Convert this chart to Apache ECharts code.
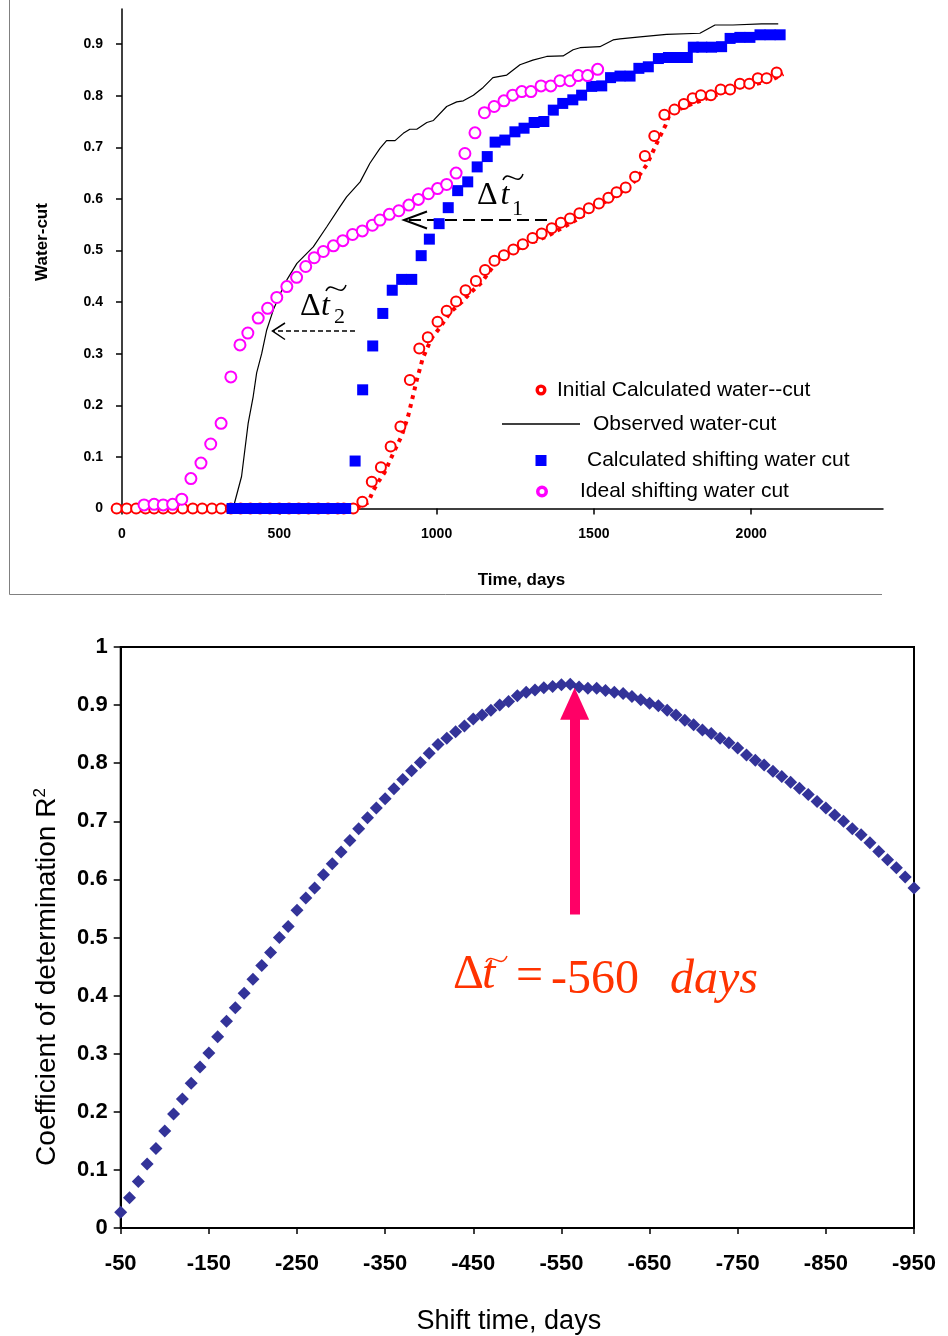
<!DOCTYPE html>
<html><head><meta charset="utf-8">
<script src="https://cdn.jsdelivr.net/npm/echarts@6/dist/echarts.min.js"></script>
<style>html,body{margin:0;padding:0;background:#fff}#c{width:948px;height:1336px}</style>
</head><body><div id="c"></div>
<script>
// ---------- Top chart data: [time (days), water-cut] ----------
const initialCalc = [[-17,0],[15,0],[45,0],[75,0],[102,0],[131,0],[161,0],[193,0],[225,0],[255,0],[286,0],[315,0],[346,0],[377,0],[408,0],[439,0],[470,0],[500,0],[531,0],[562,0],[593,0],[624,0],[655,0],[686,0],[705,0],
 [735,0],[764,0.013],[794,0.052],[823,0.080],[854,0.12],[885,0.159],[915,0.249],[945,0.31],[972,0.332],[1003,0.362],[1032,0.383],[1062,0.401],[1092,0.423],[1125,0.441],[1154,0.462],[1184,0.48],[1214,0.491],[1244,0.502],[1274,0.512],[1305,0.524],[1334,0.533],[1366,0.543],[1395,0.554],[1424,0.562],[1454,0.572],[1484,0.582],[1516,0.591],[1546,0.602],[1572,0.613],[1601,0.622],[1631,0.643],[1662,0.683],[1692,0.722],[1724,0.763],[1756,0.773],[1786,0.784],[1814,0.795],[1840,0.801],[1872,0.801],[1903,0.812],[1933,0.812],[1964,0.823],[1994,0.823],[2021,0.834],[2049,0.834],[2081,0.845]];
const initialCalcDotted = [[746,0],[783,0.012],[797,0.033],[815,0.052],[834,0.069],[860,0.104],[889,0.141],[910,0.18],[937,0.249],[956,0.291],[984,0.33],[1011,0.351],[1043,0.38],[1080,0.40],[1106,0.417],[1143,0.438],[1202,0.488],[1286,0.511],[1350,0.527],[1435,0.556],[1519,0.588],[1615,0.624],[1641,0.643],[1668,0.666],[1697,0.704],[1715,0.727],[1728,0.743],[1742,0.766],[1795,0.78],[1874,0.798],[1943,0.814],[2007,0.821],[2070,0.832],[2102,0.842]];
const observed = [[353,0],[380,0.062],[401,0.165],[417,0.217],[428,0.263],[444,0.30],[460,0.346],[481,0.385],[508,0.423],[524,0.443],[556,0.475],[608,0.507],[651,0.546],[693,0.585],[714,0.604],[757,0.633],[788,0.669],[820,0.698],[841,0.713],[868,0.713],[894,0.727],[915,0.735],[937,0.735],[969,0.748],[990,0.752],[1032,0.779],[1064,0.788],[1085,0.790],[1117,0.801],[1148,0.816],[1179,0.835],[1223,0.84],[1265,0.86],[1306,0.869],[1350,0.876],[1402,0.877],[1434,0.889],[1456,0.893],[1519,0.895],[1561,0.908],[1583,0.91],[1647,0.914],[1731,0.919],[1837,0.921],[1885,0.937],[1942,0.937],[2033,0.939],[2086,0.939]];
const calcShifting = [[350,0],[380,0],[410,0],[440,0],[470,0],[500,0],[530,0],[560,0],[590,0],[620,0],[650,0],[680,0],[711,0],
 [741,0.092],[765,0.23],[797,0.315],[829,0.378],[859,0.423],[889,0.444],[921,0.444],[951,0.49],[977,0.522],[1008,0.552],[1037,0.583],[1067,0.616],[1099,0.633],[1129,0.662],[1161,0.682],[1186,0.71],[1217,0.714],[1249,0.730],[1278,0.737],[1310,0.748],[1341,0.75],[1371,0.772],[1401,0.785],[1433,0.792],[1461,0.801],[1493,0.818],[1525,0.819],[1553,0.835],[1583,0.838],[1615,0.838],[1643,0.853],[1673,0.856],[1705,0.872],[1737,0.874],[1768,0.874],[1797,0.874],[1816,0.894],[1843,0.894],[1874,0.894],[1906,0.895],[1933,0.911],[1964,0.913],[1996,0.913],[2028,0.918],[2060,0.918],[2092,0.918]];
const idealShifting = [[70,0.007],[102,0.008],[131,0.007],[161,0.008],[190,0.018],[219,0.058],[251,0.088],[282,0.125],[315,0.165],[346,0.255],[375,0.317],[400,0.34],[433,0.369],[463,0.388],[492,0.409],[524,0.43],[555,0.448],[584,0.469],[611,0.486],[640,0.498],[672,0.509],[702,0.519],[733,0.531],[764,0.538],[796,0.549],[820,0.559],[850,0.570],[880,0.577],[912,0.588],[942,0.599],[974,0.610],[1003,0.620],[1032,0.628],[1062,0.650],[1090,0.688],[1122,0.728],[1152,0.767],[1183,0.779],[1214,0.790],[1242,0.801],[1271,0.808],[1300,0.808],[1332,0.819],[1363,0.819],[1392,0.829],[1424,0.829],[1450,0.839],[1480,0.839],[1512,0.851]];
const timeTicks = [0,500,1000,1500,2000];
const waterCutTicks = [0,0.1,0.2,0.3,0.4,0.5,0.6,0.7,0.8,0.9];

// ---------- Bottom chart data ----------
const shiftTime = [-50,-60,-70,-80,-90,-100,-110,-120,-130,-140,-150,-160,-170,-180,-190,-200,-210,-220,-230,-240,-250,-260,-270,-280,-290,-300,-310,-320,-330,-340,-350,-360,-370,-380,-390,-400,-410,-420,-430,-440,-450,-460,-470,-480,-490,-500,-510,-520,-530,-540,-550,-560,-570,-580,-590,-600,-610,-620,-630,-640,-650,-660,-670,-680,-690,-700,-710,-720,-730,-740,-750,-760,-770,-780,-790,-800,-810,-820,-830,-840,-850,-860,-870,-880,-890,-900,-910,-920,-930,-940,-950];
const r2 = [0.027,0.052,0.080,0.110,0.137,0.167,0.196,0.222,0.249,0.277,
 0.301,0.329,0.356,0.379,0.404,0.428,0.452,0.474,0.500,0.519,
 0.547,0.568,0.585,0.608,0.627,0.647,0.667,0.687,0.706,0.723,
 0.739,0.756,0.772,0.787,0.801,0.817,0.832,0.843,0.854,0.864,
 0.876,0.883,0.891,0.900,0.906,0.916,0.922,0.926,0.930,0.932,
 0.935,0.936,0.931,0.929,0.929,0.925,0.922,0.920,0.915,0.909,
 0.903,0.899,0.891,0.883,0.874,0.866,0.857,0.851,0.843,0.835,
 0.826,0.814,0.805,0.797,0.786,0.777,0.767,0.757,0.746,0.734,
 0.723,0.711,0.700,0.687,0.677,0.663,0.648,0.634,0.620,0.604,
 0.585];
const shiftTicks = [-50,-150,-250,-350,-450,-550,-650,-750,-850,-950];
const bestShift = -565;

const SANS = '"Liberation Sans", Arial, sans-serif';
const SERIF = '"Liberation Serif", "Times New Roman", serif';
const chart = echarts.init(document.getElementById('c'), null, {renderer:'canvas'});

function legendOf(name, icon, itemStyle, left, top, w, h, padLeft) {
  return {data:[{name, icon, itemStyle}], left, top, itemWidth:w, itemHeight:h, padding:0,
    selectedMode:false, orient:'horizontal',
    textStyle:{fontFamily:SANS, fontSize:21, color:'#000', padding:[0,0,0,padLeft]}};
}
const RING = 'path://M10,0A10,10,0,1,0,10,20A10,10,0,1,0,10,0ZM10,3A7,7,0,1,1,10,17A7,7,0,1,1,10,3Z';

const option = {
  animation:false,
  backgroundColor:'#fff',
  grid:[
    {left:122, right:65, top:9, bottom:827.5, containLabel:false},
    {left:120.7, right:34, top:647, bottom:107, containLabel:false, show:true, borderColor:'#000', borderWidth:2}
  ],
  legend:[
    legendOf('Initial Calculated water--cut',RING,{color:'#ff0000',opacity:1},535.5,379.5,9,9,6.5),
    legendOf('Observed water-cut','path://M0,0H78V1.4H0Z',{color:'#000',opacity:1},502,413.5,78,1.4,8),
    legendOf('Calculated shifting water cut','rect',{color:'#0000ff',opacity:1},535.5,450,11,11,35.5),
    legendOf('Ideal shifting water cut',RING,{color:'#ff00ff',opacity:1},536,481,10,10,28)
  ],
  xAxis:[
    {type:'value', gridIndex:0, min:0, max:2419,
     name:'Time, days', nameLocation:'middle', nameGap:63,
     nameTextStyle:{fontFamily:SANS, fontSize:17, fontWeight:'bold', color:'#000', padding:[0,0,0,38]},
     axisLine:{show:true, onZero:false, lineStyle:{color:'#000', width:1.5}},
     axisTick:{show:true, inside:false, length:6, lineStyle:{color:'#000', width:1.5}, customValues:timeTicks},
     axisLabel:{fontFamily:SANS, fontSize:14, fontWeight:'bold', color:'#000', margin:19, customValues:timeTicks,
       formatter:v=>String(v)},
     splitLine:{show:false}},
    {type:'value', gridIndex:1, min:-950, max:-50, inverse:true,
     name:'Shift time, days', nameLocation:'middle', nameGap:80,
     nameTextStyle:{fontFamily:SANS, fontSize:27, color:'#000', padding:[0,17,0,0]},
     axisLine:{show:true, onZero:false, lineStyle:{color:'#000', width:2}},
     axisTick:{show:true, length:6, lineStyle:{color:'#000', width:1.5}, customValues:shiftTicks},
     axisLabel:{fontFamily:SANS, fontSize:22, fontWeight:'bold', color:'#000', margin:25, customValues:shiftTicks,
       formatter:v=>String(v)},
     splitLine:{show:false}}
  ],
  yAxis:[
    {type:'value', gridIndex:0, min:0, max:0.968,
     name:'Water-cut', nameLocation:'middle', nameGap:71,
     nameTextStyle:{fontFamily:SANS, fontSize:17, fontWeight:'bold', color:'#000', padding:[0,0,0,33.5]},
     axisLine:{show:true, onZero:false, lineStyle:{color:'#000', width:1.5}},
     axisTick:{show:true, length:6, lineStyle:{color:'#000', width:1.5}, customValues:waterCutTicks},
     axisLabel:{fontFamily:SANS, fontSize:14, fontWeight:'bold', color:'#000', margin:19, customValues:waterCutTicks},
     splitLine:{show:false}},
    {type:'value', gridIndex:1, min:0, max:1, interval:0.1,
     name:'Coefficient of determination R{sup|2}', nameLocation:'middle', nameGap:58,
     nameTextStyle:{fontFamily:SANS, fontSize:28, color:'#000', padding:[0,79,0,0],
       rich:{sup:{fontFamily:SANS, fontSize:17, color:'#000', padding:[0,0,14,0]}}},
     axisLine:{show:true, onZero:false, lineStyle:{color:'#000', width:2}},
     axisTick:{show:true, length:7, lineStyle:{color:'#000', width:1.5}},
     axisLabel:{fontFamily:SANS, fontSize:22, fontWeight:'bold', color:'#000', margin:13},
     splitLine:{show:false}}
  ],
  series:[
    {name:'Initial Calculated water--cut (line)', type:'line', xAxisIndex:0, yAxisIndex:0, data:initialCalcDotted,
     showSymbol:false, symbol:'none', lineStyle:{color:'#ff0000', width:4, type:[4,5], cap:'butt'}, z:2},
    {name:'Initial Calculated water--cut', type:'scatter', xAxisIndex:0, yAxisIndex:0, data:initialCalc,
     symbol:'emptyCircle', symbolSize:10, clip:false,
     itemStyle:{color:'#ff0000', borderColor:'#ff0000', borderWidth:1.5, opacity:1}, z:3},
    {name:'Observed water-cut', type:'line', xAxisIndex:0, yAxisIndex:0, data:observed,
     symbol:'none', showSymbol:false, lineStyle:{color:'#000', width:1.2}, itemStyle:{color:'#000'}, z:4},
    {name:'Calculated shifting water cut', type:'scatter', xAxisIndex:0, yAxisIndex:0, data:calcShifting,
     symbol:'rect', symbolSize:11, clip:false, itemStyle:{color:'#0000ff', opacity:1}, z:5},
    {name:'Ideal shifting water cut', type:'scatter', xAxisIndex:0, yAxisIndex:0, data:idealShifting,
     symbol:'emptyCircle', symbolSize:11, clip:false,
     itemStyle:{color:'#ff00ff', borderColor:'#ff00ff', borderWidth:1.5, opacity:1}, z:6},
    {name:'R2', type:'scatter', xAxisIndex:1, yAxisIndex:1,
     data:shiftTime.map((s,i)=>[s, r2[i]]),
     symbol:'diamond', symbolSize:13, clip:false, itemStyle:{color:'#333399', opacity:1}, z:3,
     markLine:{silent:true, animation:false, symbol:['none','triangle'], symbolSize:[29,32],
       lineStyle:{color:'#ff0066', width:10, type:'solid', cap:'butt', opacity:1}, itemStyle:{color:'#ff0066'},
       label:{show:false}, emphasis:{disabled:true},
       data:[[{coord:[bestShift,0.5395]},{coord:[bestShift,0.9024]}]]}}
  ],
  graphic:[
    {type:'line', shape:{x1:9.5,y1:0,x2:9.5,y2:594.5}, style:{stroke:'#808080', lineWidth:1}, silent:true},
    {type:'line', shape:{x1:9.5,y1:594.5,x2:882,y2:594.5}, style:{stroke:'#808080', lineWidth:1}, silent:true},
    // Δt1 annotation
    {type:'line', shape:{x1:547,y1:220,x2:406,y2:220}, style:{stroke:'#000', lineWidth:2, lineDash:[12,6]}, silent:true},
    {type:'polyline', shape:{points:[[427,211.5],[404,220],[427,228.5]]}, style:{stroke:'#000', lineWidth:2, fill:null}, silent:true},
    {type:'text', x:477, y:195.9, style:{text:'Δ', font:'32px '+SERIF, fill:'#000', align:'left', verticalAlign:'middle'}, silent:true},
    {type:'text', x:500.5, y:195.9, style:{text:'t', font:'italic 32px '+SERIF, fill:'#000', align:'left', verticalAlign:'middle'}, silent:true},
    {type:'bezierCurve', shape:{x1:503,y1:180,cpx1:508,cpy1:168,cpx2:518,cpy2:188,x2:523,y2:174}, style:{stroke:'#000', lineWidth:1.5, fill:null}, silent:true},
    {type:'text', x:512, y:209.3, style:{text:'1', font:'22px '+SERIF, fill:'#000', align:'left', verticalAlign:'middle'}, silent:true},
    // Δt2 annotation
    {type:'line', shape:{x1:355,y1:331,x2:274,y2:331}, style:{stroke:'#000', lineWidth:1.5, lineDash:[5,3]}, silent:true},
    {type:'polyline', shape:{points:[[285,323],[272.5,331],[285,339.5]]}, style:{stroke:'#000', lineWidth:1.5, fill:null}, silent:true},
    {type:'text', x:300, y:306.2, style:{text:'Δ', font:'32px '+SERIF, fill:'#000', align:'left', verticalAlign:'middle'}, silent:true},
    {type:'text', x:321, y:306.2, style:{text:'t', font:'italic 32px '+SERIF, fill:'#000', align:'left', verticalAlign:'middle'}, silent:true},
    {type:'bezierCurve', shape:{x1:326,y1:291,cpx1:331,cpy1:279,cpx2:341,cpy2:299,x2:346,y2:285}, style:{stroke:'#000', lineWidth:1.5, fill:null}, silent:true},
    {type:'text', x:334, y:317.6, style:{text:'2', font:'22px '+SERIF, fill:'#000', align:'left', verticalAlign:'middle'}, silent:true},
    // Δt = -560 days
    {type:'text', x:453, y:975.8, style:{text:'Δ', font:'48px '+SERIF, fill:'#ff3300', align:'left', verticalAlign:'middle'}, silent:true},
    {type:'text', x:482, y:975.8, style:{text:'t', font:'italic 48px '+SERIF, fill:'#ff3300', align:'left', verticalAlign:'middle'}, silent:true},
    {type:'bezierCurve', shape:{x1:486,y1:962,cpx1:492,cpy1:951,cpx2:501,cpy2:970,x2:507,y2:956}, style:{stroke:'#ff3300', lineWidth:1.5, fill:null}, silent:true},
    {type:'text', x:516, y:977.8, style:{text:'=', font:'48px '+SERIF, fill:'#ff3300', align:'left', verticalAlign:'middle'}, silent:true},
    {type:'text', x:551, y:980.5, style:{text:'-560', font:'48px '+SERIF, fill:'#ff3300', align:'left', verticalAlign:'middle'}, silent:true},
    {type:'text', x:670, y:980.5, style:{text:'days', font:'italic 48px '+SERIF, fill:'#ff3300', align:'left', verticalAlign:'middle'}, silent:true}
  ]
};
chart.setOption(option);
</script></body></html>
